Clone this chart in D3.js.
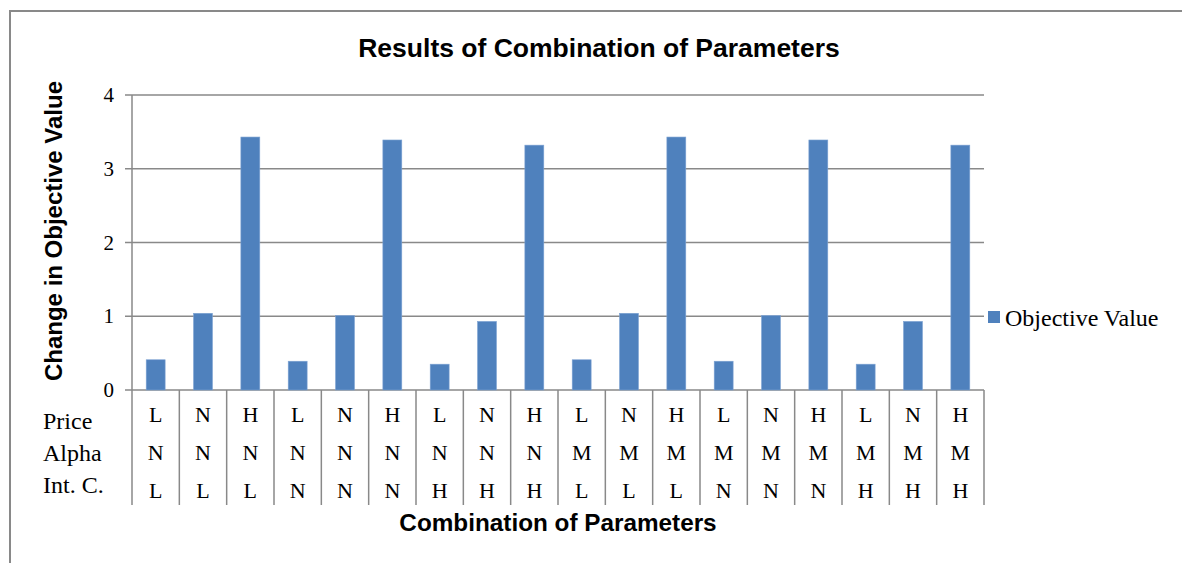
<!DOCTYPE html>
<html><head><meta charset="utf-8">
<script src="https://cdn.jsdelivr.net/npm/d3@7"></script>
<style>body{margin:0;background:#fff}svg{display:block}</style>
</head><body>
<svg id="c" width="1182" height="563"></svg>
<script>
const values = [0.41, 1.04, 3.43, 0.39, 1.01, 3.39, 0.35, 0.93, 3.32, 0.41, 1.04, 3.43, 0.39, 1.01, 3.39, 0.35, 0.93, 3.32];
const price  = ["L","N","H","L","N","H","L","N","H","L","N","H","L","N","H","L","N","H"];
const alpha  = ["N","N","N","N","N","N","N","N","N","M","M","M","M","M","M","M","M","M"];
const intC   = ["L","L","L","N","N","N","H","H","H","L","L","L","N","N","N","H","H","H"];
const rowNames = ["Price","Alpha","Int. C."];
const yTicks = [0,1,2,3,4];
const title = "Results of Combination of Parameters";
const yTitle = "Change in Objective Value";
const xTitle = "Combination of Parameters";
const seriesName = "Objective Value";

const svg = d3.select("#c");
const serif = "'Liberation Serif','Times New Roman',serif";
const sans = "'Liberation Sans',Arial,sans-serif";
const grid = "#898989";
const barColor = "#4F81BD";

// outer frame (cropped on right/bottom)
svg.append("rect").attr("x",10).attr("y",11).attr("width",1200).attr("height",600)
  .attr("fill","none").attr("stroke",grid).attr("stroke-width",2);

const L = 132, R = 984, T = 95, B = 390;
const idx = values.map((d,i)=>i);
const x = d3.scaleBand().domain(idx).range([L,R]).paddingInner(0.6).paddingOuter(0.3);
const xs = d3.scaleBand().domain(idx).range([L,R]);
const y = d3.scaleLinear().domain([0,4]).range([B,T]);

// gridlines
svg.append("g").selectAll("line").data(yTicks).join("line")
  .attr("x1",125).attr("x2",R).attr("y1",d=>y(d)).attr("y2",d=>y(d))
  .attr("stroke",grid).attr("stroke-width",1.5);

// y axis line
svg.append("line").attr("x1",L).attr("x2",L).attr("y1",T).attr("y2",B)
  .attr("stroke",grid).attr("stroke-width",1.5);

// y tick labels
svg.append("g").selectAll("text").data(yTicks).join("text")
  .attr("x",114).attr("y",d=>y(d)+7).attr("text-anchor","end")
  .attr("font-family",serif).attr("font-size",21).attr("fill","#000").text(d=>d);

// bars
svg.append("g").selectAll("rect").data(values).join("rect")
  .attr("x",(d,i)=>x(i)).attr("width",x.bandwidth())
  .attr("y",d=>y(d)).attr("height",d=>y(0)-y(d))
  .attr("fill",barColor).attr("stroke","#7ea3d3").attr("stroke-width",0.6);

// category table separators
const seps = d3.range(values.length+1).map(i=> i<values.length ? xs(i) : R);
svg.append("g").selectAll("line").data(seps).join("line")
  .attr("x1",d=>d).attr("x2",d=>d).attr("y1",B).attr("y2",505)
  .attr("stroke",grid).attr("stroke-width",1.5);

// category labels
const rows = [price, alpha, intC];
const rowBase = [422, 460, 498];
const rowLabelBase = [429, 461, 493];
rows.forEach((arr,r)=>{
  svg.append("g").selectAll("text").data(arr).join("text")
    .attr("x",(d,i)=>xs(i)+xs.bandwidth()/2).attr("y",rowBase[r])
    .attr("text-anchor","middle").attr("font-family",serif).attr("font-size",22)
    .attr("fill","#000").text(d=>d);
});
svg.append("g").selectAll("text").data(rowNames).join("text")
  .attr("x",43).attr("y",(d,i)=>rowLabelBase[i])
  .attr("font-family",serif).attr("font-size",24).attr("fill","#000").text(d=>d);

// titles
svg.append("text").attr("x",599).attr("y",57).attr("text-anchor","middle")
  .attr("font-family",sans).attr("font-weight","bold").attr("font-size",26.5).text(title);
svg.append("text").attr("transform","translate(62,231) rotate(-90)").attr("text-anchor","middle")
  .attr("font-family",sans).attr("font-weight","bold").attr("font-size",24).text(yTitle);
svg.append("text").attr("x",558).attr("y",531).attr("text-anchor","middle")
  .attr("font-family",sans).attr("font-weight","bold").attr("font-size",24.3).text(xTitle);

// legend
svg.append("rect").attr("x",988).attr("y",311).attr("width",12).attr("height",12).attr("fill",barColor);
svg.append("text").attr("x",1005).attr("y",326).attr("font-family",serif).attr("font-size",24)
  .attr("fill","#000").text(seriesName);
</script>
</body></html>
